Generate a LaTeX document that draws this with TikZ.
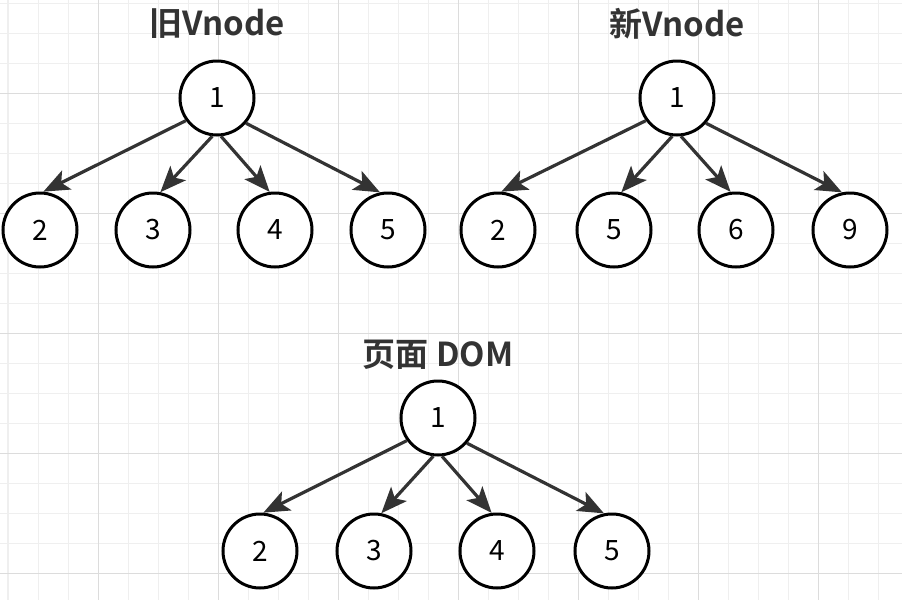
\documentclass[tikz,border=0pt]{standalone}
\usepackage{fontspec}
\setmainfont{Noto Sans CJK SC}[BoldFont={Noto Sans CJK SC Bold}]
\usetikzlibrary{arrows.meta}
\definecolor{linkgray}{HTML}{333333}
\definecolor{gridminor}{HTML}{EFEFEF}
\definecolor{gridmajor}{HTML}{DCDCDC}

\begin{document}
\begin{tikzpicture}[x=0.5pt, y=-0.5pt,
    vnode/.style = {draw, circle, fill=white, line width=1.5pt, minimum size=37pt, inner sep=0pt, font=\fontsize{14}{14}\selectfont},
    title/.style = {font=\bfseries\fontsize{16.5}{16.5}\selectfont, text=linkgray},
    link/.style = {draw=linkgray, line width=1.6pt, -{Stealth[length=13pt, width=10.5pt, inset=3pt]}}]
    \useasboundingbox (0,0) rectangle (902,600);
    % background grid
    \foreach \gx in {8,38,...,902} \draw[gridminor, line width=0.5pt] (\gx,0) -- (\gx,600);
    \foreach \gy in {3,33,...,600} \draw[gridminor, line width=0.5pt] (0,\gy) -- (902,\gy);
    \foreach \gx in {98,218,...,902} \draw[gridmajor, line width=0.5pt] (\gx,0) -- (\gx,600);
    \foreach \gy in {93,213,...,600} \draw[gridmajor, line width=0.5pt] (0,\gy) -- (902,\gy);

    % old vnode tree
    \node[title] (oldtitle) at (217,24) {旧Vnode};
    \node[vnode] (o1) at (217,98) {1};
    \node[vnode] (o2) at (40,230) {2};
    \node[vnode] (o3) at (153,230) {3};
    \node[vnode] (o4) at (275,230) {4};
    \node[vnode] (o5) at (388,230) {5};
    \draw[link] (o1.216) -- (o2.85);
    \draw[link] (o1.263) -- (o3.79);
    \draw[link] (o1.276) -- (o4.98);
    \draw[link] (o1.319) -- (o5.102);

    % new vnode tree
    \node[title] (newtitle) at (677,24) {新Vnode};
    \node[vnode] (n1) at (677,98) {1};
    \node[vnode] (n2) at (498,230) {2};
    \node[vnode] (n5) at (614,230) {5};
    \node[vnode] (n6) at (736,230) {6};
    \node[vnode] (n9) at (850,230) {9};
    \draw[link] (n1.216) -- (n2.85);
    \draw[link] (n1.263) -- (n5.79);
    \draw[link] (n1.276) -- (n6.98);
    \draw[link] (n1.319) -- (n9.102);

    % page dom tree
    \node[title] (domtitle) at (438,355) {页面 DOM};
    \node[vnode] (d1) at (438,418) {1};
    \node[vnode] (d2) at (260,551) {2};
    \node[vnode] (d3) at (374,551) {3};
    \node[vnode] (d4) at (497,551) {4};
    \node[vnode] (d5) at (612,551) {5};
    \draw[link] (d1.216) -- (d2.85);
    \draw[link] (d1.263) -- (d3.79);
    \draw[link] (d1.276) -- (d4.98);
    \draw[link] (d1.319) -- (d5.102);
\end{tikzpicture}
\end{document}
